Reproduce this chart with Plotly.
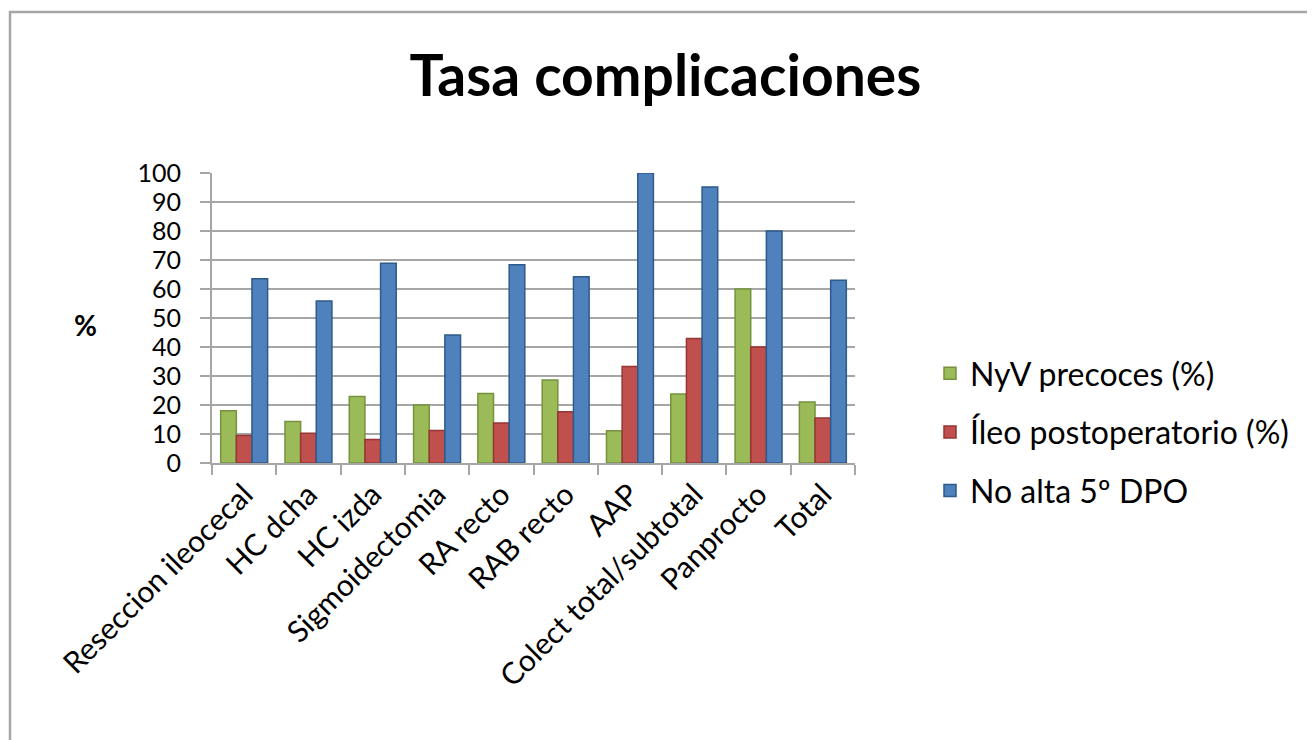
import plotly.graph_objects as go

categories = ["Reseccion ileocecal", "HC dcha", "HC izda", "Sigmoidectomia", "RA recto",
              "RAB recto", "AAP", "Colect total/subtotal", "Panprocto", "Total"]
nyv_precoces = [18.0, 14.3, 22.9, 20.0, 24.0, 28.6, 11.1, 23.8, 60.0, 21.0]
ileo_postop = [9.5, 10.3, 8.1, 11.2, 13.8, 17.7, 33.3, 42.9, 40.0, 15.5]
no_alta_5dpo = [63.5, 55.9, 68.9, 44.1, 68.4, 64.2, 100.0, 95.2, 80.0, 63.0]
y_ticks = list(range(0, 101, 10))

FONT = "Lato, Carlito, Calibri, sans-serif"

W, H = 1307, 732
L, R, T, B = 204, 847, 165, 455  # plot area in figure pixels

fig = go.Figure()
series = [
    ("NyV precoces (%)", nyv_precoces, "#9BBB59", "#76923C"),
    ("Íleo postoperatorio (%)", ileo_postop, "#C0504D", "#943634"),
    ("No alta 5º DPO", no_alta_5dpo, "#4F81BD", "#2E5A8C"),
]
for i, (name, vals, col, edge) in enumerate(series):
    fig.add_trace(go.Bar(
        x=categories, y=vals, name=name, legendgroup=f"g{i}",
        marker=dict(color=col, line=dict(color=edge, width=1.5)),
    ))

fig.update_layout(
    width=W, height=H,
    paper_bgcolor="white", plot_bgcolor="white",
    margin=dict(l=L, r=W - R, t=T, b=H - B, pad=0),
    barmode="group", bargap=0.27, bargroupgap=0.0,
    font=dict(family=FONT, color="#000000", size=26),
    title=dict(text="<b>Tasa complicaciones</b>", x=0.503, xanchor="center",
               xref="container", yref="container",
               y=1 - 68 / H, yanchor="middle", font=dict(size=57, family=FONT)),
    legend=dict(x=(922 - L) / (R - L), xanchor="left", y=(B - 338) / (B - T), yanchor="top",
                traceorder="grouped", tracegroupgap=14,
                font=dict(size=32, family=FONT), itemwidth=30,
                bgcolor="rgba(0,0,0,0)"),
    showlegend=True,
)
fig.update_yaxes(range=[0, 100], tickvals=y_ticks, showgrid=True, gridcolor="#A6A6A6",
                 gridwidth=2, showline=True, linecolor="#A6A6A6", linewidth=2,
                 ticks="outside", ticklen=10, tickcolor="#A6A6A6", tickwidth=2,
                 ticklabelstandoff=14, tickfont=dict(size=25), zeroline=False)
fig.update_xaxes(showline=True, linecolor="#A6A6A6", linewidth=2, ticks="outside",
                 tickson="boundaries", ticklen=10, tickcolor="#A6A6A6", tickwidth=2,
                 tickangle=-45, tickfont=dict(size=30), showgrid=False)

fig.add_annotation(text="<b>%</b>", xref="paper", yref="paper",
                   x=(77 - L) / (R - L), y=(B - 317) / (B - T),
                   showarrow=False, font=dict(size=28, family=FONT), xanchor="center", yanchor="middle")

# chart frame
fig.add_shape(type="rect", xref="paper", yref="paper",
              x0=(2 - L) / (R - L), x1=(1330 - L) / (R - L),
              y0=(B - 760) / (B - T), y1=(B - 4) / (B - T),
              line=dict(color="#A6A6A6", width=2.5), layer="below")

fig.write_html("out.html")
